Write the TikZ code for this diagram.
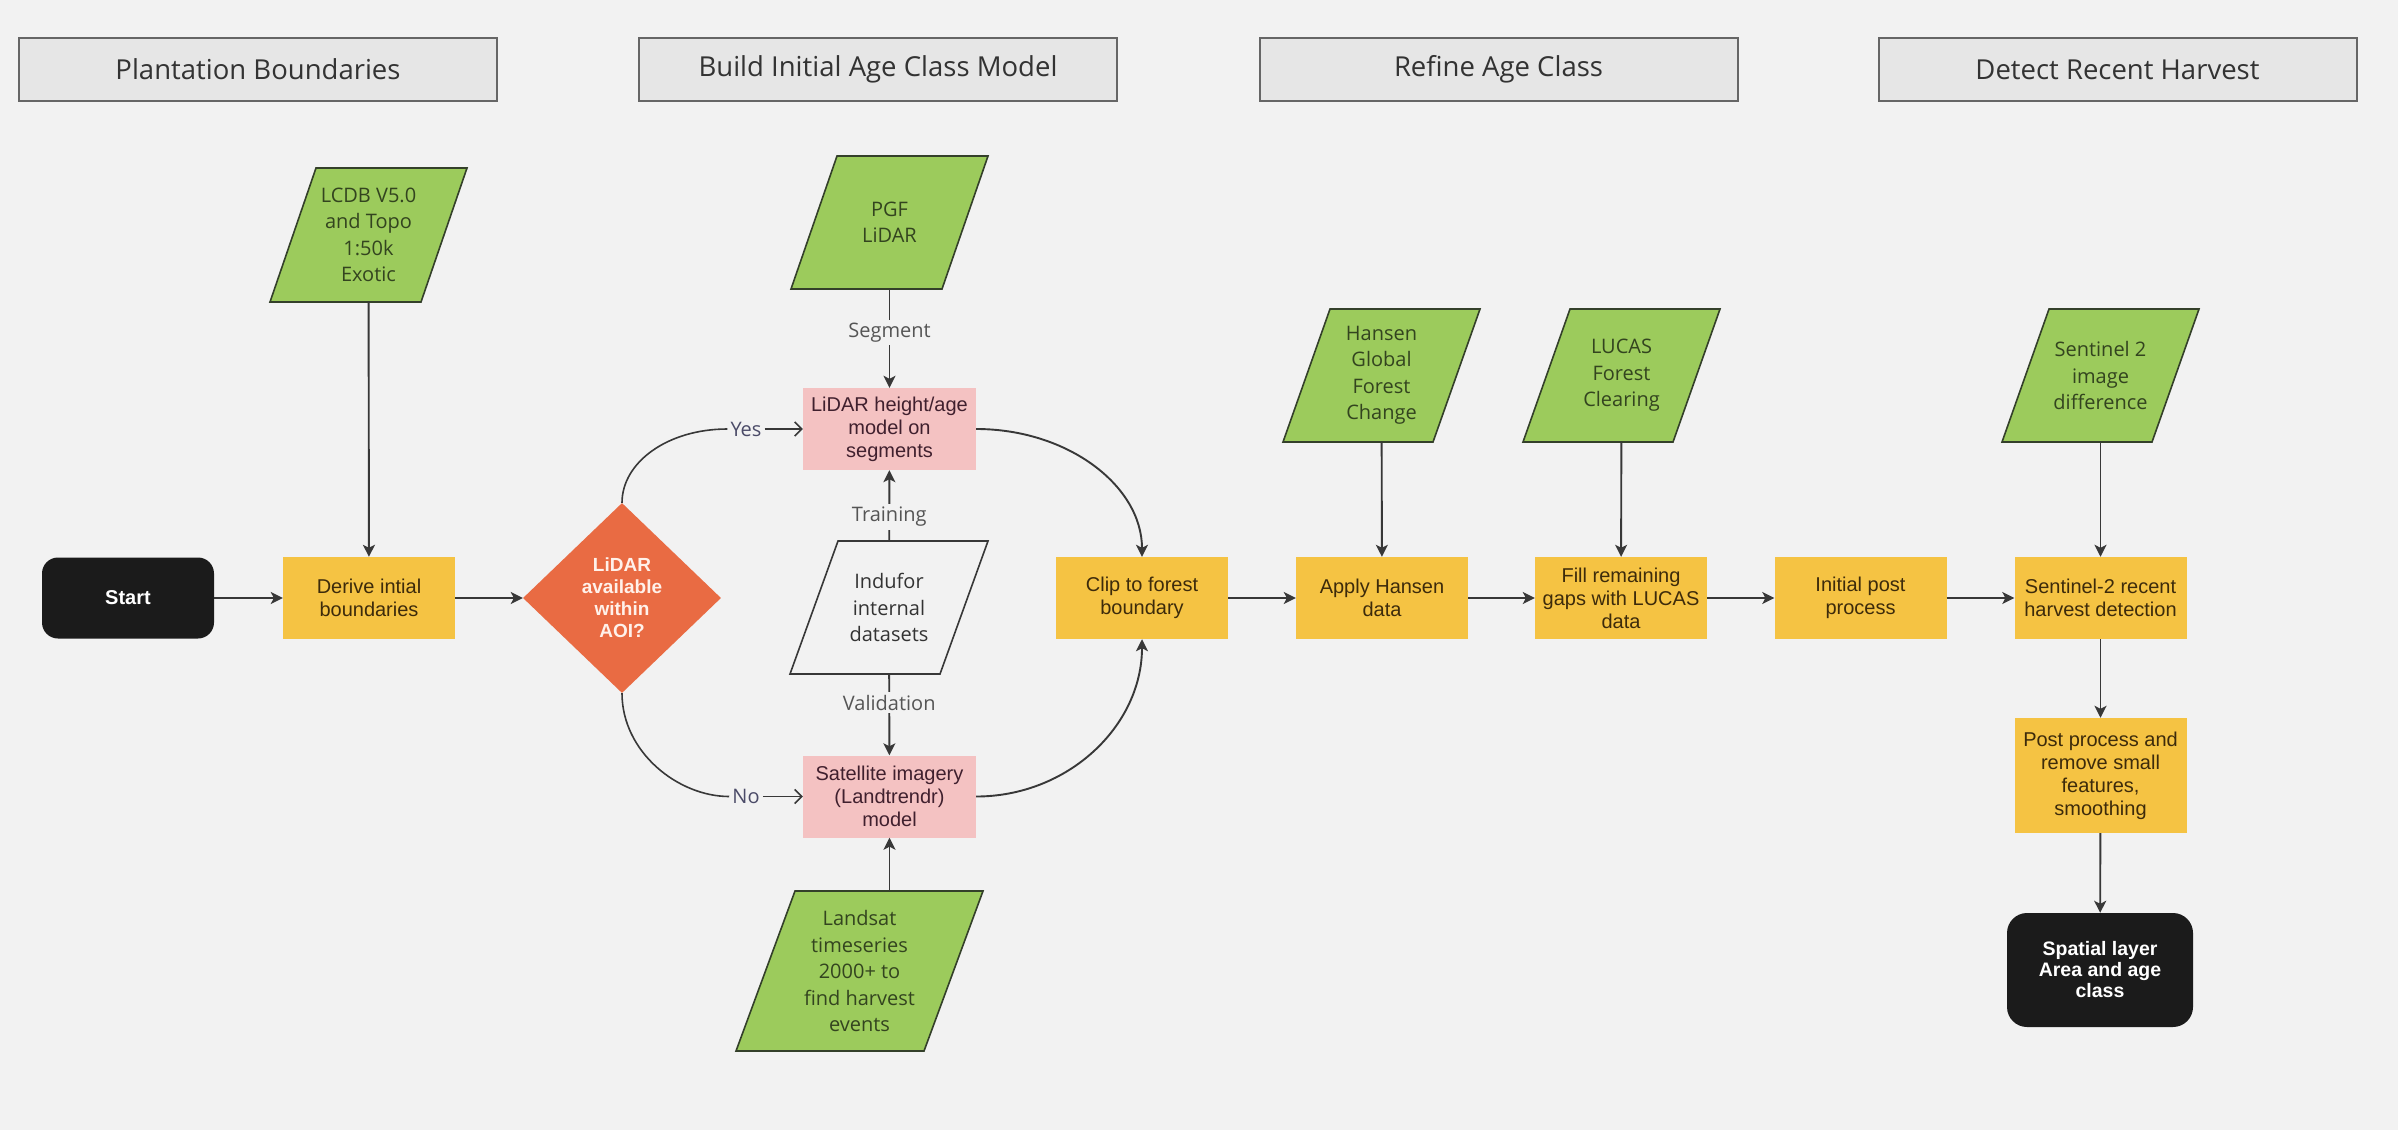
\documentclass[tikz,border=0pt]{standalone}
\usepackage{fontspec}
\setmainfont{Liberation Sans}
\newfontfamily\uifont{Open Sans}
\usetikzlibrary{shapes.geometric,arrows.meta,calc}

\definecolor{canvas}{HTML}{F2F2F2}
\definecolor{headfill}{HTML}{E6E6E6}
\definecolor{headline}{HTML}{666666}
\definecolor{headtext}{HTML}{333333}
\definecolor{leaf}{HTML}{9CCB5C}
\definecolor{leafline}{HTML}{34402A}
\definecolor{leaftext}{HTML}{33441F}
\definecolor{amber}{HTML}{F5C343}
\definecolor{ambertext}{HTML}{3D2B0B}
\definecolor{blush}{HTML}{F4C2C2}
\definecolor{blushtext}{HTML}{40202E}
\definecolor{coral}{HTML}{E96B43}
\definecolor{coraltext}{HTML}{FFF1EA}
\definecolor{ink}{HTML}{1B1B1B}
\definecolor{wire}{HTML}{383838}
\definecolor{labelgray}{HTML}{555555}
\definecolor{choicetext}{HTML}{4B4B68}

% slanted data symbol: style prefix, name, centre x, centre y,
% half top width, half height, half slant, text
\newcommand{\dataslab}[8]{%
  \path[#1 slab] ({#3+#7-#5},{#4-#6}) -- ({#3+#7+#5},{#4-#6})
     -- ({#3-#7+#5},{#4+#6}) -- ({#3-#7-#5},{#4+#6}) -- cycle;
  \node[#1 label, minimum width=2*#5pt, minimum height=2*#6pt] (#2) at (#3,#4) {#8};
}

\begin{document}
\begin{tikzpicture}[x=1pt,y=-1pt,
  header/.style={draw=headline, line width=2pt, fill=headfill, minimum width=478pt,
    minimum height=63pt, inner sep=0pt, text=headtext,
    font=\uifont\fontsize{27.5}{31}\selectfont},
  process/.style={fill=amber, minimum width=172pt, minimum height=82pt, inner sep=0pt,
    align=center, text=ambertext, font=\fontsize{20}{23}\selectfont},
  model/.style={fill=blush, minimum width=173pt, minimum height=82pt, inner sep=0pt,
    align=center, text=blushtext, font=\fontsize{20}{23}\selectfont},
  terminal/.style={fill=ink, rounded corners=16pt, minimum width=172pt, minimum height=81pt,
    inner sep=0pt, align=center, text=white, font=\bfseries\fontsize{20}{22}\selectfont},
  decision/.style={diamond, fill=coral, minimum width=198pt, minimum height=190pt,
    inner sep=0pt, align=center, text=coraltext, font=\bfseries\fontsize{19}{22}\selectfont},
  green slab/.style={fill=leaf, draw=leafline, line width=1.6pt, line join=miter},
  plain slab/.style={fill=canvas, draw=wire, line width=1.6pt, line join=miter},
  green label/.style={inner sep=0pt, align=center, text=leaftext,
    font=\uifont\fontsize{20}{26.5}\selectfont},
  plain label/.style={inner sep=0pt, align=center, text=headtext,
    font=\uifont\fontsize{20}{26.5}\selectfont},
  flow/.style={draw=wire, line width=1.9pt, -{Stealth[length=12pt,width=12pt,inset=3pt]}},
  link/.style={draw=wire, line width=1.6pt},
  choice/.style={draw=wire, line width=1.6pt, -{Straight Barb[length=7pt,width=14pt]}},
  elabel/.style={fill=canvas, inner sep=3pt, text=labelgray,
    font=\uifont\fontsize{20}{22}\selectfont},
  clabel/.style={inner sep=3pt, text=choicetext, font=\uifont\fontsize{20}{22}\selectfont},
]
\fill[canvas] (0,0) rectangle (2398,1130);
\useasboundingbox (0,0) rectangle (2398,1130);

% stage headers
\node[header] (h1) at (258,69.5) {Plantation Boundaries};
\node[header] (h2) at (878,69.5) {Build Initial Age Class Model};
\node[header] (h3) at (1498.5,69.5) {Refine Age Class};
\node[header] (h4) at (2117.5,69.5) {Detect Recent Harvest};

% data inputs
\dataslab{green}{lcdb}{368.5}{235}{75.5}{67}{23}{LCDB V5.0\\and Topo\\1:50k\\Exotic}
\dataslab{green}{pgf}{889.5}{222.5}{75.5}{66.5}{23}{PGF\\LiDAR}
\dataslab{plain}{indufor}{889}{607.5}{75}{66.5}{24}{Indufor\\internal\\datasets}
\dataslab{green}{landsat}{859.5}{971}{94}{80}{29.5}{Landsat\\timeseries\\2000+ to\\find harvest\\events}
\dataslab{green}{hansen}{1381.5}{375.5}{75}{66.5}{23.5}{Hansen\\Global\\Forest\\Change}
\dataslab{green}{lucas}{1621.5}{375.5}{75}{66.5}{23.5}{LUCAS\\Forest\\Clearing}
\dataslab{green}{sentinel}{2100.5}{375.5}{75}{66.5}{23.5}{Sentinel 2\\image\\difference}

% process steps
\node[terminal] (start) at (128,598) {Start};
\node[process] (derive) at (369,598) {Derive intial\\boundaries};
\node[decision] (dia) at (622,598) {LiDAR\\available\\within\\AOI?};
\node[model] (lid) at (889.5,429) {LiDAR height/age\\model on\\segments};
\node[model] (sat) at (889.5,796.5) {Satellite imagery\\(Landtrendr)\\model};
\node[process] (clip) at (1142,598) {Clip to forest\\boundary};
\node[process] (apply) at (1382,598) {Apply Hansen\\data};
\node[process] (fill) at (1621,598) {Fill remaining\\gaps with LUCAS\\data};
\node[process] (init) at (1860.5,598) {Initial post\\process};
\node[process] (s2) at (2100.5,598) {Sentinel-2 recent\\harvest detection};
\node[process, minimum height=115pt] (post) at (2100.5,775.5)
  {Post process and\\remove small\\features,\\smoothing};
\node[terminal, minimum width=186pt, minimum height=114pt, rounded corners=20pt,
  font=\bfseries\fontsize{19.5}{21}\selectfont] (spatial) at (2100,970)
  {Spatial layer\\Area and age\\class};

% main flow
\draw[flow] (start) -- (derive);
\draw[flow] (derive) -- (dia);
\draw[flow] (lcdb) -- (derive);
\draw[flow] (clip) -- (apply);
\draw[flow] (apply) -- (fill);
\draw[flow] (fill) -- (init);
\draw[flow] (init) -- (s2);
\draw[flow] (hansen) -- (apply);
\draw[flow] (lucas) -- (fill);
\draw[flow] (sentinel) -- (s2);
\draw[flow] (s2) -- (post);
\draw[flow] (post) -- (spatial);

% model inputs
\draw[flow] (pgf) -- node[elabel, pos=0.44] {Segment} (lid);
\draw[flow] (indufor) -- node[elabel, pos=0.34] {Training} (lid);
\draw[flow] (indufor) -- node[elabel, pos=0.35] {Validation} (sat);
\draw[flow] (sat.south |- landsat.north) -- (sat.south);

% decision branches
\node[clabel] (yes) at (746,429) {Yes};
\node[clabel] (no) at (746,796.5) {No};
\draw[link] (dia.north) .. controls (622,462) and (668,429) .. (yes.west);
\draw[choice] (yes.east) -- (lid.west);
\draw[link] (dia.south) .. controls (622,752) and (678,796.5) .. (no.west);
\draw[choice] (no.east) -- (sat.west);

% both models feed the clip step
\draw[flow] (lid.east) .. controls (1068,429) and (1142,486) .. (clip.north);
\draw[flow] (sat.east) .. controls (1068,796.5) and (1142,726) .. (clip.south);
\end{tikzpicture}
\end{document}
